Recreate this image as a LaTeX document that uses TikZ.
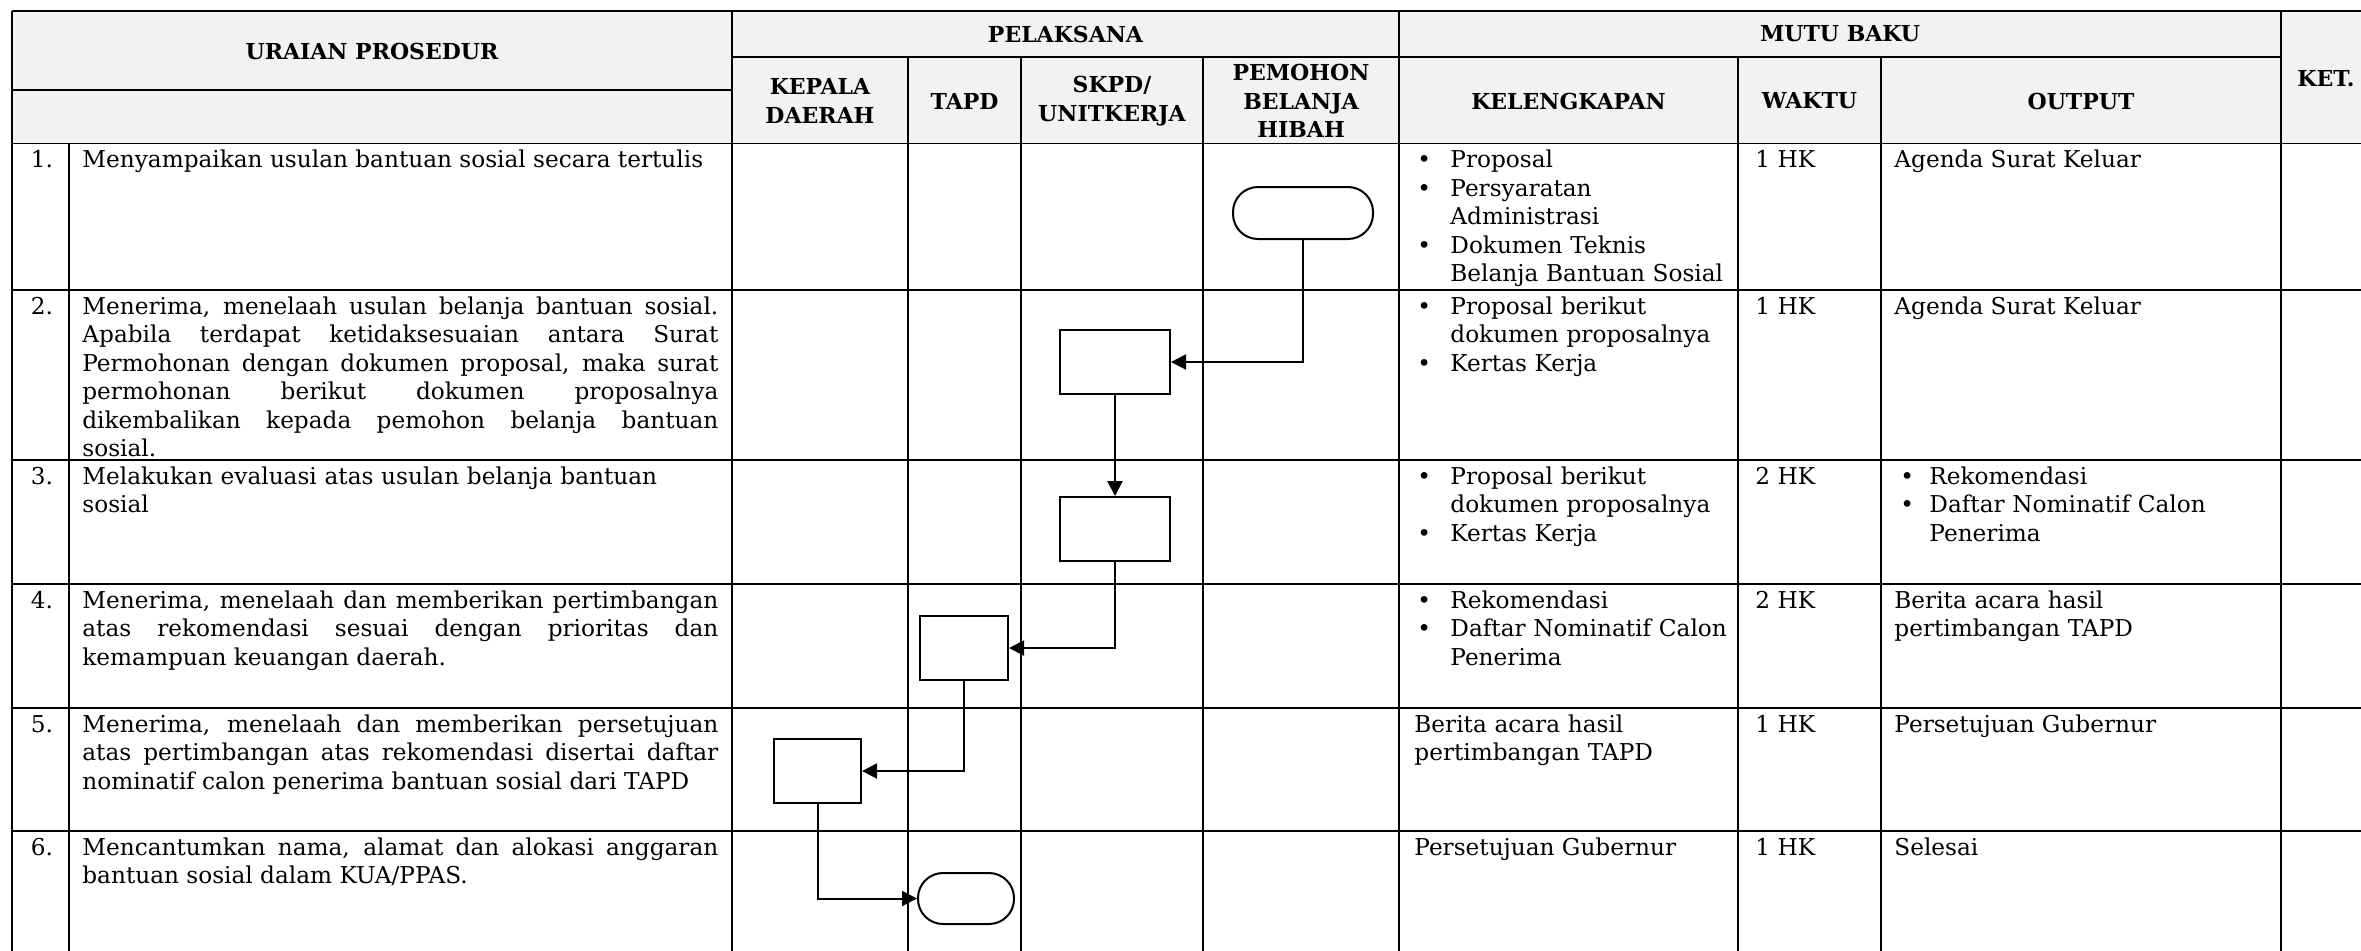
\documentclass[tikz,border=0pt]{standalone}
\usepackage{fontspec}
\setmainfont{DejaVu Serif}
\usetikzlibrary{arrows.meta}
\definecolor{hdr}{HTML}{F2F2F2}
\newcommand\bodyfont{\fontsize{11.6pt}{14.25pt}\selectfont}
\newcommand\headfont{\fontsize{11pt}{14.25pt}\selectfont\bfseries}
\newcommand\kbul[1]{\hangindent=16.5pt\hangafter=1\noindent\makebox[16.5pt][l]{\textbullet}#1\par}
\newcommand\obul[1]{\hangindent=14.5pt\hangafter=1\noindent\makebox[14.5pt][l]{\textbullet}#1\par}
\begin{document}
\begin{tikzpicture}[x=0.5pt,y=-0.5pt,
  grid/.style={line width=0.8pt,black},
  hd/.style={font=\headfont,align=center,inner sep=0pt},
  txt/.style={font=\bodyfont,anchor=base west,inner sep=0pt,align=left},
  jus/.style={font=\bodyfont,anchor=base west,inner sep=0pt,text width=318pt,align=justify},
  rag/.style={font=\bodyfont,anchor=base west,inner sep=0pt,text width=318pt,align=left},
  lst/.style={font=\bodyfont,anchor=base west,inner sep=0pt,text width=175pt,align=left},
  num/.style={font=\bodyfont,anchor=base,inner sep=0pt},
  proc/.style={draw,line width=1pt,fill=white,inner sep=0pt},
  term/.style={draw,line width=1pt,fill=white,inner sep=0pt,rounded corners=12.5pt},
  flow/.style={line width=1pt,-{Triangle[length=7.5pt,width=7.5pt]}}]
\useasboundingbox (0,0) rectangle (2361,950);
\clip (0,0) rectangle (2361,950);
% header background
\fill[hdr] (12,11) rectangle (2420,143.5);
% horizontal lines
\draw[grid] (12,11) -- (2420,11);
\draw[grid] (12,90) -- (732,90);
\draw[grid] (732,57) -- (2281,57);
\foreach \yy in {143.5,290,460,584,708,831}
  \draw[grid] (12,\yy) -- (2420,\yy);
% vertical lines
\foreach \xx in {12,732,1399,2281}
  \draw[grid] (\xx,11) -- (\xx,970);
\foreach \xx in {908,1021,1203,1738,1881}
  \draw[grid] (\xx,57) -- (\xx,970);
\draw[grid] (69,143.5) -- (69,970);

% header texts
\node[hd] (hUr) at (372,51) {URAIAN PROSEDUR};
\node[hd] (hPl) at (1065.5,34) {PELAKSANA};
\node[hd] (hMb) at (1840,34) {MUTU BAKU};
\node[hd] (hKd) at (820,101) {KEPALA\\DAERAH};
\node[hd] (hTp) at (964.5,101) {TAPD};
\node[hd] (hSk) at (1112,101) {SKPD/\\UNITKERJA};
\node[hd] (hPm) at (1301,101) {PEMOHON\\BELANJA\\HIBAH};
\node[hd] (hKl) at (1568.5,101) {KELENGKAPAN};
\node[hd] (hWk) at (1809.5,101) {WAKTU};
\node[hd] (hOu) at (2081,101) {OUTPUT};
\node[hd,anchor=west] (hKe) at (2297,79) {KET.};

% numbers
\node[num] (n1) at (42,167.5) {1.};
\node[num] (n2) at (42,314) {2.};
\node[num] (n3) at (42,484) {3.};
\node[num] (n4) at (42,608) {4.};
\node[num] (n5) at (42,732) {5.};
\node[num] (n6) at (42,855) {6.};

% uraian
\node[txt] (u1) at (82,167.5) {Menyampaikan usulan bantuan sosial secara tertulis};
\node[jus] (u2) at (82,314) {Menerima, menelaah usulan belanja bantuan sosial.\linebreak Apabila terdapat ketidaksesuaian antara Surat\linebreak Permohonan dengan dokumen proposal, maka surat\linebreak permohonan berikut dokumen proposalnya\linebreak dikembalikan kepada pemohon belanja bantuan\linebreak sosial.};
\node[rag] (u3) at (82,484) {Melakukan evaluasi atas usulan belanja bantuan\newline sosial};
\node[jus] (u4) at (82,608) {Menerima, menelaah dan memberikan pertimbangan\linebreak atas rekomendasi sesuai dengan prioritas dan\linebreak kemampuan keuangan daerah.};
\node[jus] (u5) at (82,732) {Menerima, menelaah dan memberikan persetujuan\linebreak atas pertimbangan atas rekomendasi disertai daftar\linebreak nominatif calon penerima bantuan sosial dari TAPD};
\node[jus] (u6) at (82,855) {Mencantumkan nama, alamat dan alokasi anggaran\linebreak bantuan sosial dalam KUA/PPAS.};

% kelengkapan
\node[lst] (k1) at (1417,167.5) {\kbul{Proposal}\kbul{Persyaratan\newline Administrasi}\kbul{Dokumen Teknis\newline Belanja Bantuan Sosial}};
\node[lst] (k2) at (1417,314) {\kbul{Proposal berikut\newline dokumen proposalnya}\kbul{Kertas Kerja}};
\node[lst] (k3) at (1417,484) {\kbul{Proposal berikut\newline dokumen proposalnya}\kbul{Kertas Kerja}};
\node[lst] (k4) at (1417,608) {\kbul{Rekomendasi}\kbul{Daftar Nominatif Calon\newline Penerima}};
\node[lst] (k5) at (1414,732) {Berita acara hasil\newline pertimbangan TAPD};
\node[txt] (k6) at (1414,855) {Persetujuan Gubernur};

% waktu
\node[txt] (w1) at (1755,167.5) {1 HK};
\node[txt] (w2) at (1755,314) {1 HK};
\node[txt] (w3) at (1755,484) {2 HK};
\node[txt] (w4) at (1755,608) {2 HK};
\node[txt] (w5) at (1755,732) {1 HK};
\node[txt] (w6) at (1755,855) {1 HK};

% output
\node[txt] (o1) at (1894,167.5) {Agenda Surat Keluar};
\node[txt] (o2) at (1894,314) {Agenda Surat Keluar};
\node[lst] (o3) at (1900,484) {\obul{Rekomendasi}\obul{Daftar Nominatif Calon\newline Penerima}};
\node[lst] (o4) at (1894,608) {Berita acara hasil\newline pertimbangan TAPD};
\node[txt] (o5) at (1894,732) {Persetujuan Gubernur};
\node[txt] (o6) at (1894,855) {Selesai};

% flowchart shapes
\node[term,minimum width=70pt,minimum height=26pt] (t1) at (1303,213) {};
\node[proc,minimum width=55pt,minimum height=32pt] (b2) at (1115,362) {};
\node[proc,minimum width=55pt,minimum height=32pt] (b3) at (1115,529) {};
\node[proc,minimum width=44pt,minimum height=32pt] (b4) at (964,648) {};
\node[proc,minimum width=43.5pt,minimum height=32pt] (b5) at (817.5,771) {};
\node[term,minimum width=48pt,minimum height=25.5pt] (t2) at (966,898.5) {};

% connectors
\draw[flow] (t1.south) |- (b2.east);
\draw[flow] (b2.south) -- (b3.north);
\draw[flow] (b3.south) |- (b4.east);
\draw[flow] (b4.south) |- (b5.east);
\draw[flow] (b5.south) |- (t2.west);
\end{tikzpicture}
\end{document}
